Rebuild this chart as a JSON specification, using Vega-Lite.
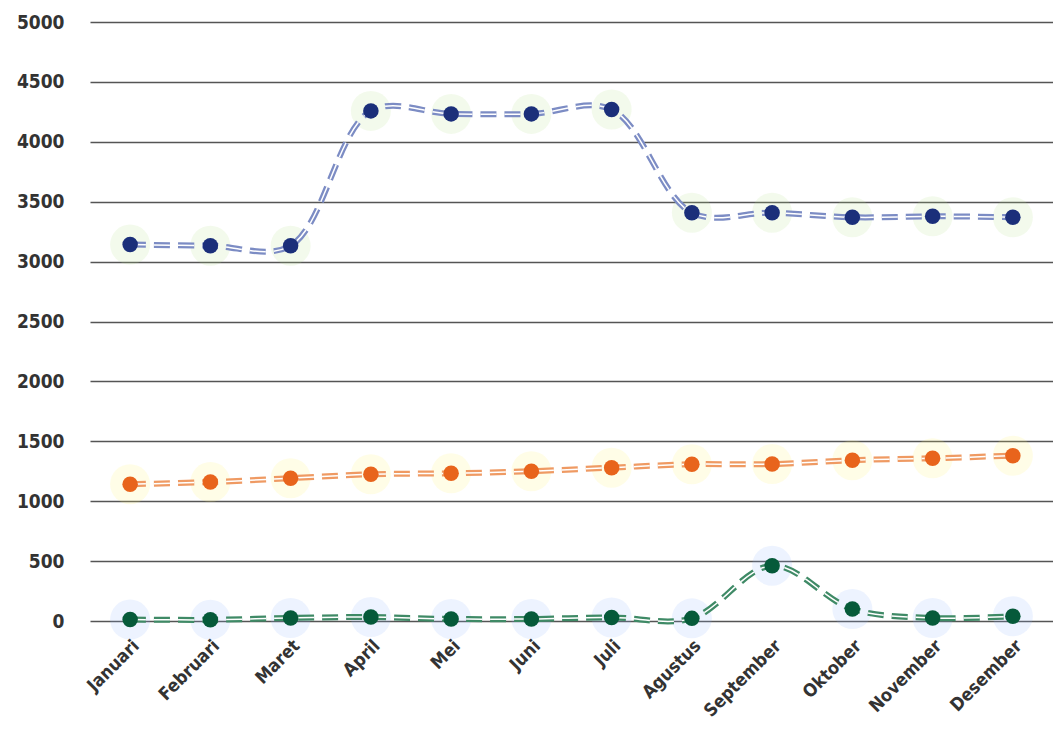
{
  "$schema": "https://vega.github.io/schema/vega-lite/v6.json",
  "width": 963,
  "height": 599,
  "autosize": "none",
  "padding": {"left": 90, "top": 22, "right": 0, "bottom": 114},
  "background": "white",
  "config": {"view": {"stroke": null}},
  "data": {"values": [
    {"bulan": "Januari", "seri": "Seri 1", "nilai": 3142},
    {"bulan": "Februari", "seri": "Seri 1", "nilai": 3133},
    {"bulan": "Maret", "seri": "Seri 1", "nilai": 3133},
    {"bulan": "April", "seri": "Seri 1", "nilai": 4258},
    {"bulan": "Mei", "seri": "Seri 1", "nilai": 4233},
    {"bulan": "Juni", "seri": "Seri 1", "nilai": 4233},
    {"bulan": "Juli", "seri": "Seri 1", "nilai": 4270},
    {"bulan": "Agustus", "seri": "Seri 1", "nilai": 3408},
    {"bulan": "September", "seri": "Seri 1", "nilai": 3408},
    {"bulan": "Oktober", "seri": "Seri 1", "nilai": 3370},
    {"bulan": "November", "seri": "Seri 1", "nilai": 3378},
    {"bulan": "Desember", "seri": "Seri 1", "nilai": 3370},
    {"bulan": "Januari", "seri": "Seri 2", "nilai": 1142},
    {"bulan": "Februari", "seri": "Seri 2", "nilai": 1160},
    {"bulan": "Maret", "seri": "Seri 2", "nilai": 1192},
    {"bulan": "April", "seri": "Seri 2", "nilai": 1225},
    {"bulan": "Mei", "seri": "Seri 2", "nilai": 1233},
    {"bulan": "Juni", "seri": "Seri 2", "nilai": 1250},
    {"bulan": "Juli", "seri": "Seri 2", "nilai": 1280},
    {"bulan": "Agustus", "seri": "Seri 2", "nilai": 1308},
    {"bulan": "September", "seri": "Seri 2", "nilai": 1310},
    {"bulan": "Oktober", "seri": "Seri 2", "nilai": 1342},
    {"bulan": "November", "seri": "Seri 2", "nilai": 1358},
    {"bulan": "Desember", "seri": "Seri 2", "nilai": 1380},
    {"bulan": "Januari", "seri": "Seri 3", "nilai": 12},
    {"bulan": "Februari", "seri": "Seri 3", "nilai": 10},
    {"bulan": "Maret", "seri": "Seri 3", "nilai": 25},
    {"bulan": "April", "seri": "Seri 3", "nilai": 33},
    {"bulan": "Mei", "seri": "Seri 3", "nilai": 17},
    {"bulan": "Juni", "seri": "Seri 3", "nilai": 17},
    {"bulan": "Juli", "seri": "Seri 3", "nilai": 30},
    {"bulan": "Agustus", "seri": "Seri 3", "nilai": 22},
    {"bulan": "September", "seri": "Seri 3", "nilai": 462},
    {"bulan": "Oktober", "seri": "Seri 3", "nilai": 100},
    {"bulan": "November", "seri": "Seri 3", "nilai": 25},
    {"bulan": "Desember", "seri": "Seri 3", "nilai": 40}
  ]},
  "encoding": {
    "x": {
      "field": "bulan",
      "type": "nominal",
      "sort": ["Januari","Februari","Maret","April","Mei","Juni","Juli","Agustus","September","Oktober","November","Desember"],
      "scale": {"type": "point", "padding": 0.5},
      "axis": {
        "title": null,
        "labelAngle": -45,
        "labelAlign": "right",
        "labelBaseline": "middle",
        "labelFont": "DejaVu Sans Condensed",
        "labelFontSize": 18,
        "labelFontWeight": "bold",
        "labelColor": "#333333",
        "labelPadding": 22,
        "labelOffset": 6,
        "ticks": false,
        "domain": false,
        "grid": false
      }
    },
    "y": {
      "field": "nilai",
      "type": "quantitative",
      "scale": {"domain": [0, 5000], "nice": false},
      "axis": {
        "title": null,
        "format": "d",
        "values": [0,500,1000,1500,2000,2500,3000,3500,4000,4500,5000],
        "labelFont": "DejaVu Sans Condensed",
        "labelFontSize": 19,
        "labelFontWeight": "bold",
        "labelColor": "#333333",
        "labelPadding": 26,
        "ticks": false,
        "domain": false,
        "grid": true,
        "gridColor": "#555555",
        "gridWidth": 1.6,
        "gridOpacity": 1
      }
    }
  },
  "layer": [
    {
      "mark": {"type": "circle", "size": 1600, "opacity": 0.16},
      "encoding": {
        "color": {"field": "seri", "type": "nominal", "legend": null,
          "scale": {"domain": ["Seri 1","Seri 2","Seri 3"], "range": ["#b7e08a", "#fff06a", "#8fb4ff"]}}
      }
    },
    {
      "mark": {"type": "line", "interpolate": "catmull-rom", "strokeWidth": 6, "strokeDash": [16, 8]},
      "encoding": {
        "color": {"field": "seri", "type": "nominal", "legend": null,
          "scale": {"domain": ["Seri 1","Seri 2","Seri 3"], "range": ["#7c8cc4", "#ef9a63", "#3f8a66"]}},
        "detail": {"field": "seri"}
      }
    },
    {
      "mark": {"type": "line", "interpolate": "catmull-rom", "strokeWidth": 1.5, "strokeDash": [16, 8], "color": "white"},
      "encoding": {"detail": {"field": "seri"}}
    },
    {
      "mark": {"type": "circle", "size": 240, "opacity": 1},
      "encoding": {
        "color": {"field": "seri", "type": "nominal", "legend": null,
          "scale": {"domain": ["Seri 1","Seri 2","Seri 3"], "range": ["#1b2f7a", "#e8641c", "#065a3a"]}}
      }
    }
  ],
  "resolve": {"scale": {"color": "independent"}}
}
